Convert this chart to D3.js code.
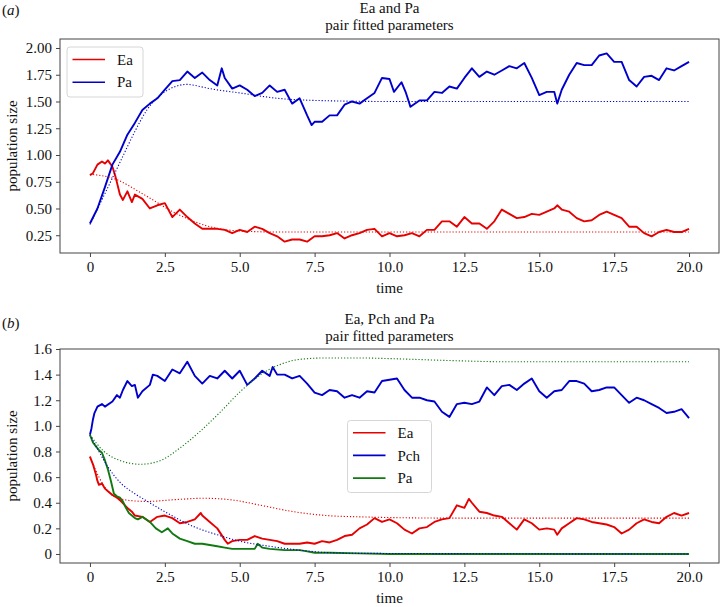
<!DOCTYPE html>
<html>
<head>
<meta charset="utf-8">
<script src="https://cdn.jsdelivr.net/npm/d3@7"></script>
<style>
  html, body { margin: 0; padding: 0; background: #fff; }
  svg { display: block; }
  text { font-family: "Liberation Serif", "DejaVu Serif", serif; fill: #111; }
</style>
</head>
<body>
<svg id="chart" width="721" height="607"></svg>
<script>
// ---------------- DATA ----------------
// x ticks
const xTicks = [0, 2.5, 5, 7.5, 10, 12.5, 15, 17.5, 20];
const xTickLabels = ["0", "2.5", "5.0", "7.5", "10.0", "12.5", "15.0", "17.5", "20.0"];
const yTicksA = [0.25, 0.5, 0.75, 1.0, 1.25, 1.5, 1.75, 2.0];
const yTickLabelsA = ["0.25", "0.50", "0.75", "1.00", "1.25", "1.50", "1.75", "2.00"];
const yTicksB = [0, 0.2, 0.4, 0.6, 0.8, 1.0, 1.2, 1.4, 1.6];
const yTickLabelsB = ["0", "0.2", "0.4", "0.6", "0.8", "1.0", "1.2", "1.4", "1.6"];

// Panel (a): simulated Ea [time, value]
const aEa = [[0,0.81],[0.1,0.83],[0.25,0.91],[0.4,0.94],[0.5,0.92],[0.6,0.95],[0.75,0.89],[0.85,0.80],[1.0,0.63],[1.1,0.58],[1.25,0.66],[1.4,0.56],[1.5,0.63],[1.75,0.59],[2.0,0.50],[2.25,0.53],[2.5,0.55],[2.75,0.42],[3.0,0.49],[3.25,0.42],[3.5,0.36],[3.75,0.31],[4.0,0.31],[4.25,0.31],[4.5,0.30],[4.75,0.27],[5.0,0.30],[5.25,0.28],[5.5,0.33],[5.75,0.31],[6.0,0.27],[6.25,0.24],[6.5,0.19],[6.75,0.21],[7.0,0.21],[7.25,0.19],[7.5,0.24],[7.75,0.24],[8.0,0.25],[8.25,0.27],[8.5,0.22],[8.75,0.25],[9.0,0.27],[9.25,0.30],[9.5,0.31],[9.75,0.24],[10.0,0.27],[10.25,0.24],[10.5,0.25],[10.75,0.27],[11.0,0.24],[11.25,0.30],[11.5,0.30],[11.75,0.38],[12.0,0.38],[12.25,0.33],[12.5,0.42],[12.75,0.36],[13.0,0.36],[13.25,0.31],[13.5,0.38],[13.75,0.49],[14.0,0.45],[14.25,0.41],[14.5,0.42],[14.75,0.45],[15.0,0.44],[15.25,0.47],[15.5,0.50],[15.6,0.53],[15.75,0.49],[16.0,0.47],[16.25,0.41],[16.5,0.38],[16.75,0.39],[17.0,0.44],[17.25,0.47],[17.5,0.44],[17.75,0.41],[18.0,0.33],[18.25,0.33],[18.5,0.27],[18.75,0.24],[19.0,0.28],[19.25,0.30],[19.5,0.28],[19.75,0.28],[20.0,0.31]];
// Panel (a): simulated Pa
const aPa = [[0,0.36],[0.25,0.50],[0.5,0.70],[0.75,0.91],[1.0,1.03],[1.25,1.19],[1.5,1.30],[1.75,1.42],[2.0,1.48],[2.25,1.53],[2.5,1.61],[2.75,1.69],[3.0,1.70],[3.25,1.78],[3.5,1.72],[3.75,1.77],[4.0,1.70],[4.25,1.65],[4.4,1.81],[4.5,1.72],[4.75,1.62],[5.0,1.65],[5.25,1.61],[5.5,1.55],[5.75,1.58],[6.0,1.65],[6.25,1.59],[6.5,1.61],[6.75,1.48],[7.0,1.53],[7.25,1.37],[7.4,1.28],[7.5,1.31],[7.75,1.31],[8.0,1.37],[8.25,1.37],[8.5,1.47],[8.75,1.50],[9.0,1.48],[9.25,1.53],[9.5,1.58],[9.75,1.72],[10.0,1.71],[10.15,1.59],[10.4,1.68],[10.55,1.58],[10.7,1.45],[11.0,1.51],[11.25,1.51],[11.5,1.59],[11.75,1.58],[12.0,1.64],[12.25,1.62],[12.5,1.72],[12.75,1.81],[13.0,1.73],[13.25,1.78],[13.5,1.75],[13.75,1.79],[14.0,1.83],[14.25,1.81],[14.5,1.86],[14.75,1.72],[15.0,1.56],[15.25,1.59],[15.5,1.59],[15.6,1.48],[15.75,1.61],[16.0,1.75],[16.25,1.86],[16.5,1.84],[16.75,1.84],[17.0,1.93],[17.25,1.95],[17.5,1.87],[17.75,1.87],[18.0,1.70],[18.25,1.64],[18.5,1.73],[18.75,1.74],[19.0,1.70],[19.25,1.81],[19.5,1.79],[19.75,1.83],[20.0,1.87]];
// Panel (a): fitted (dotted) curves
const aEaFit = [[0,0.82],[0.8,0.78],[1.8,0.63],[2.9,0.45],[4.0,0.33],[5.0,0.29],[6.25,0.28],[8,0.28],[20,0.28]];
const aPaFit = [[0,0.35],[0.5,0.64],[1.0,0.93],[1.5,1.22],[1.9,1.42],[2.5,1.59],[3.25,1.66],[3.5,1.65],[4.0,1.62],[5.0,1.58],[6.25,1.53],[7.5,1.51],[10,1.50],[20,1.50]];

// Panel (b): simulated Ea
const bEa = [[0,0.76],[0.1,0.70],[0.2,0.62],[0.25,0.57],[0.3,0.54],[0.4,0.55],[0.5,0.51],[0.6,0.49],[0.75,0.46],[0.9,0.44],[1.0,0.42],[1.25,0.36],[1.4,0.33],[1.5,0.30],[1.75,0.29],[2.0,0.25],[2.25,0.29],[2.5,0.30],[2.75,0.28],[3.0,0.24],[3.25,0.25],[3.5,0.27],[3.7,0.32],[3.75,0.30],[4.0,0.25],[4.25,0.20],[4.5,0.11],[4.6,0.08],[4.75,0.10],[5.0,0.11],[5.25,0.11],[5.5,0.14],[5.75,0.12],[6.0,0.11],[6.25,0.10],[6.5,0.08],[6.75,0.08],[7.0,0.08],[7.25,0.09],[7.5,0.08],[7.75,0.10],[8.0,0.09],[8.25,0.11],[8.5,0.14],[8.75,0.15],[9.0,0.20],[9.25,0.23],[9.5,0.28],[9.75,0.25],[10.0,0.27],[10.25,0.24],[10.5,0.19],[10.75,0.16],[11.0,0.20],[11.25,0.21],[11.5,0.25],[11.75,0.27],[12.0,0.28],[12.25,0.38],[12.5,0.36],[12.65,0.43],[12.75,0.40],[13.0,0.33],[13.25,0.32],[13.5,0.30],[13.75,0.29],[14.0,0.24],[14.25,0.19],[14.5,0.27],[14.75,0.24],[15.0,0.19],[15.25,0.20],[15.5,0.19],[15.6,0.15],[15.75,0.20],[16.0,0.24],[16.25,0.28],[16.5,0.27],[16.75,0.25],[17.0,0.24],[17.25,0.23],[17.5,0.21],[17.75,0.16],[18.0,0.19],[18.25,0.24],[18.5,0.27],[18.75,0.25],[19.0,0.24],[19.25,0.29],[19.5,0.32],[19.75,0.30],[20.0,0.32]];
// Panel (b): simulated Pch
const bPch = [[0,0.93],[0.05,0.98],[0.1,1.05],[0.15,1.10],[0.25,1.15],[0.4,1.17],[0.5,1.15],[0.75,1.19],[0.9,1.24],[1.0,1.22],[1.1,1.28],[1.25,1.35],[1.4,1.31],[1.5,1.32],[1.6,1.22],[1.75,1.27],[2.0,1.32],[2.1,1.40],[2.25,1.39],[2.5,1.35],[2.75,1.44],[3.0,1.41],[3.25,1.50],[3.5,1.39],[3.75,1.33],[4.0,1.39],[4.25,1.37],[4.5,1.43],[4.75,1.37],[5.0,1.43],[5.25,1.32],[5.5,1.37],[5.75,1.43],[6.0,1.39],[6.1,1.46],[6.25,1.40],[6.5,1.40],[6.75,1.37],[7.0,1.39],[7.25,1.33],[7.5,1.26],[7.75,1.24],[8.0,1.28],[8.25,1.27],[8.5,1.22],[8.75,1.24],[9.0,1.22],[9.25,1.27],[9.5,1.26],[9.75,1.35],[10.0,1.36],[10.25,1.37],[10.5,1.28],[10.75,1.22],[11.0,1.22],[11.25,1.20],[11.5,1.19],[11.75,1.11],[12.0,1.07],[12.25,1.17],[12.5,1.18],[12.75,1.17],[13.0,1.19],[13.25,1.30],[13.5,1.24],[13.75,1.31],[14.0,1.32],[14.25,1.28],[14.5,1.33],[14.75,1.37],[15.0,1.27],[15.25,1.22],[15.5,1.27],[15.75,1.28],[16.0,1.35],[16.25,1.35],[16.5,1.33],[16.75,1.27],[17.0,1.28],[17.25,1.30],[17.5,1.30],[17.75,1.24],[18.0,1.18],[18.25,1.22],[18.5,1.20],[18.75,1.17],[19.0,1.14],[19.25,1.10],[19.5,1.11],[19.75,1.13],[20.0,1.06]];
// Panel (b): simulated Pa
const bPa = [[0,0.93],[0.1,0.87],[0.2,0.84],[0.3,0.81],[0.4,0.79],[0.5,0.73],[0.6,0.66],[0.7,0.57],[0.8,0.47],[0.9,0.45],[1.0,0.44],[1.1,0.41],[1.2,0.36],[1.3,0.32],[1.5,0.28],[1.6,0.27],[1.75,0.29],[2.0,0.25],[2.2,0.20],[2.4,0.17],[2.6,0.20],[2.75,0.16],[3.0,0.12],[3.25,0.10],[3.5,0.08],[3.75,0.08],[4.0,0.07],[4.25,0.06],[4.5,0.05],[4.75,0.04],[5.0,0.04],[5.25,0.04],[5.5,0.04],[5.6,0.08],[5.75,0.05],[6.0,0.04],[6.5,0.03],[7.0,0.03],[7.25,0.02],[7.5,0.01],[8.0,0.01],[9.0,0.005],[10.0,0.0],[20.0,0.0]];
// Panel (b): fitted (dotted) curves
const bEaFit = [[0,0.76],[0.3,0.60],[0.6,0.49],[0.8,0.45],[1.25,0.42],[1.9,0.41],[2.9,0.425],[3.8,0.435],[4.8,0.42],[5.7,0.38],[6.8,0.33],[7.9,0.30],[9,0.29],[12,0.28],[20,0.28]];
const bPchFit = [[0,0.93],[0.3,0.80],[0.6,0.68],[1.0,0.56],[1.5,0.47],[1.85,0.42],[2.5,0.33],[3.5,0.21],[4.25,0.15],[5.0,0.10],[6.0,0.06],[7.0,0.03],[8.0,0.01],[9.0,0.005],[20,0.0]];
const bPaFit = [[0,0.93],[0.47,0.80],[1.0,0.73],[1.69,0.70],[2.36,0.73],[3.02,0.83],[3.69,0.96],[4.36,1.11],[5.03,1.27],[5.7,1.40],[6.36,1.48],[7.03,1.52],[7.9,1.53],[9,1.53],[10,1.525],[12,1.51],[14,1.50],[20,1.50]];

const seriesNamesA = ["Ea", "Pa"];
const seriesNamesB = ["Ea", "Pch", "Pa"];
const titlesA = ["Ea and Pa", "pair fitted parameters"];
const titlesB = ["Ea, Pch and Pa", "pair fitted parameters"];

// ---------------- STYLE ----------------
const RED = "#e60000", BLUE = "#0000cc", GREEN = "#107a10";
const svg = d3.select("#chart");

function panel(opt) {
  const { top, bottom, yDomain, yTicks, yLabels, lines, fits, legend, titles, tag, tagY, titleY } = opt;
  const left = 60, right = 719;
  const x = d3.scaleLinear().domain([-1, 21]).range([left, right]);
  const y = d3.scaleLinear().domain(yDomain).range([bottom, top]);
  const g = svg.append("g");

  const line = d3.line().x(d => x(d[0])).y(d => y(d[1]));

  // simulated lines
  lines.forEach(s => {
    g.append("path").datum(s.data).attr("d", line)
      .attr("fill", "none").attr("stroke", s.color).attr("stroke-width", 1.9)
      .attr("stroke-linejoin", "round");
  });
  // fitted dotted
  fits.forEach(s => {
    g.append("path").datum(s.data).attr("d", d3.line().curve(d3.curveMonotoneX).x(d => x(d[0])).y(d => y(d[1])))
      .attr("fill", "none").attr("stroke", s.color).attr("stroke-width", 1.1)
      .attr("stroke-dasharray", "1.2,1.9");
  });

  // frame
  g.append("rect").attr("x", left).attr("y", top).attr("width", right - left).attr("height", bottom - top)
    .attr("fill", "none").attr("stroke", "#444").attr("stroke-width", 1);

  // axes
  const xAxis = d3.axisBottom(x).tickValues(xTicks).tickFormat((d, i) => xTickLabels[i]).tickSize(4).tickPadding(4);
  const gx = g.append("g").attr("transform", `translate(0,${bottom})`).call(xAxis);
  const yAxis = d3.axisLeft(y).tickValues(yTicks).tickFormat((d, i) => yLabels[i]).tickSize(4).tickPadding(4);
  const gy = g.append("g").attr("transform", `translate(${left},0)`).call(yAxis);
  [gx, gy].forEach(a => {
    a.select(".domain").remove();
    a.selectAll(".tick line").attr("stroke", "#444");
    a.selectAll(".tick text").style("font-family", '"Liberation Serif", serif').style("font-size", "15px").attr("fill", "#111");
  });

  // axis labels
  g.append("text").attr("x", (left + right) / 2).attr("y", bottom + 40).attr("text-anchor", "middle")
    .style("font-size", "15px").text("time");
  g.append("text").attr("transform", `translate(17,${(top + bottom) / 2}) rotate(-90)`).attr("text-anchor", "middle")
    .style("font-size", "15px").text("population size");

  // titles
  g.append("text").attr("x", (left + right) / 2).attr("y", titleY).attr("text-anchor", "middle")
    .style("font-size", "15px").text(titles[0]);
  g.append("text").attr("x", (left + right) / 2).attr("y", titleY + 16.5).attr("text-anchor", "middle")
    .style("font-size", "15px").text(titles[1]);
  g.append("text").attr("x", 2).attr("y", tagY).style("font-size", "15px")
    .html(`(<tspan font-style="italic">${tag}</tspan>)`);

  // legend
  const lg = g.append("g");
  lg.append("rect").attr("x", legend.x).attr("y", legend.y).attr("width", legend.w).attr("height", legend.h)
    .attr("rx", 3).attr("fill", "#fff").attr("fill-opacity", 0.85).attr("stroke", "#d6d6d6").attr("stroke-width", 1);
  legend.items.forEach((it, i) => {
    const yy = legend.y0 + i * 22.7;
    lg.append("line").attr("x1", legend.x + 5.5).attr("x2", legend.x + 38).attr("y1", yy).attr("y2", yy)
      .attr("stroke", it.color).attr("stroke-width", 1.6);
    lg.append("text").attr("x", legend.x + 50).attr("y", yy).attr("dy", "0.35em")
      .style("font-size", "15px").text(it.name);
  });
}

panel({
  top: 39, bottom: 253, yDomain: [0.084, 2.084], yTicks: yTicksA, yLabels: yTickLabelsA,
  lines: [{ data: aEa, color: RED }, { data: aPa, color: BLUE }],
  fits: [{ data: aEaFit, color: RED }, { data: aPaFit, color: BLUE }],
  legend: { x: 67, y: 47, w: 76, h: 50, y0: 59.5, items: [{ name: seriesNamesA[0], color: RED }, { name: seriesNamesA[1], color: BLUE }] },
  titles: titlesA, tag: "a", tagY: 15, titleY: 13
});

panel({
  top: 349, bottom: 563, yDomain: [-0.0704, 1.6], yTicks: yTicksB, yLabels: yTickLabelsB,
  lines: [{ data: bEa, color: RED }, { data: bPch, color: BLUE }, { data: bPa, color: GREEN }],
  fits: [{ data: bEaFit, color: RED }, { data: bPchFit, color: BLUE }, { data: bPaFit, color: GREEN }],
  legend: { x: 347.5, y: 420.5, w: 84, h: 72, y0: 432.7, items: [{ name: seriesNamesB[0], color: RED }, { name: seriesNamesB[1], color: BLUE }, { name: seriesNamesB[2], color: GREEN }] },
  titles: titlesB, tag: "b", tagY: 328, titleY: 324
});
</script>
</body>
</html>
